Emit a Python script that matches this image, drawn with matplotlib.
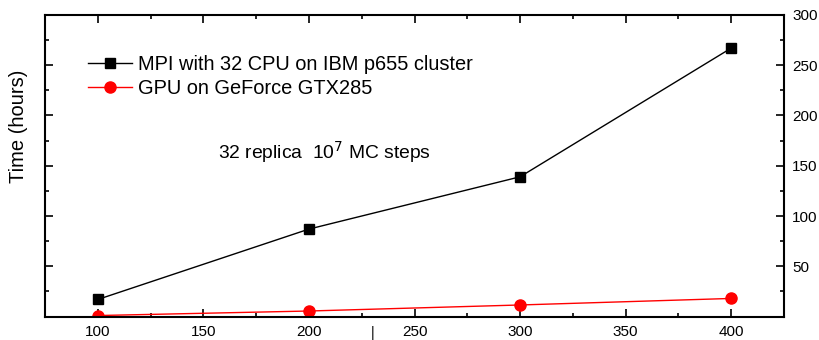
import matplotlib
matplotlib.use("Agg")
import matplotlib.pyplot as plt
from matplotlib.ticker import MultipleLocator

plt.rcParams['font.family'] = ['Liberation Sans', 'DejaVu Sans']

sizes = [100, 200, 300, 400]
mpi_hours = [17, 87, 139, 267]
gpu_hours = [1, 5.5, 11.5, 18]

fig = plt.figure(figsize=(8.2, 3.4), dpi=100)
ax = fig.add_axes([0.055, 0.069, 0.901, 0.887])

ax.plot(sizes, mpi_hours, color='black', lw=1, marker='s', ms=7,
        label='MPI with 32 CPU on IBM p655 cluster')
ax.plot(sizes, gpu_hours, color='red', lw=1, marker='o', ms=8,
        label='GPU on GeForce GTX285')

ax.set_xlim(75, 425)
ax.set_ylim(0, 300)
ax.xaxis.set_major_locator(MultipleLocator(50))
ax.xaxis.set_minor_locator(MultipleLocator(25))
ax.yaxis.set_major_locator(MultipleLocator(50))
ax.yaxis.set_minor_locator(MultipleLocator(25))

ax.tick_params(which='both', direction='in', top=True, right=True,
               left=True, labelleft=False, labelright=True, labelsize=11)
ax.tick_params(which='major', length=6, width=1.2)
ax.tick_params(which='minor', length=3, width=1.2)
ax.tick_params(axis='x', pad=6)
ax.tick_params(axis='y', pad=6)
ax.set_yticks([50, 100, 150, 200, 250, 300])
for s in ax.spines.values():
    s.set_linewidth(1.5)

ax.set_ylabel('Time (hours)', fontsize=14.5)
ax.yaxis.set_label_coords(-0.023, 0.63)

ax.legend(loc='upper left', bbox_to_anchor=(0.058, 0.868), frameon=False,
          fontsize=14.4, handlelength=2.2, handletextpad=0.3, labelspacing=0.25,
          borderpad=0, borderaxespad=0)

ax.text(157, 163.5, r'32 replica  10$^7$ MC steps', fontsize=13.9, va='center')

fig.text(373 / 820, 1 - 333 / 340, '|', fontsize=10, ha='center', va='center')

fig.savefig('out.png', dpi=100)
